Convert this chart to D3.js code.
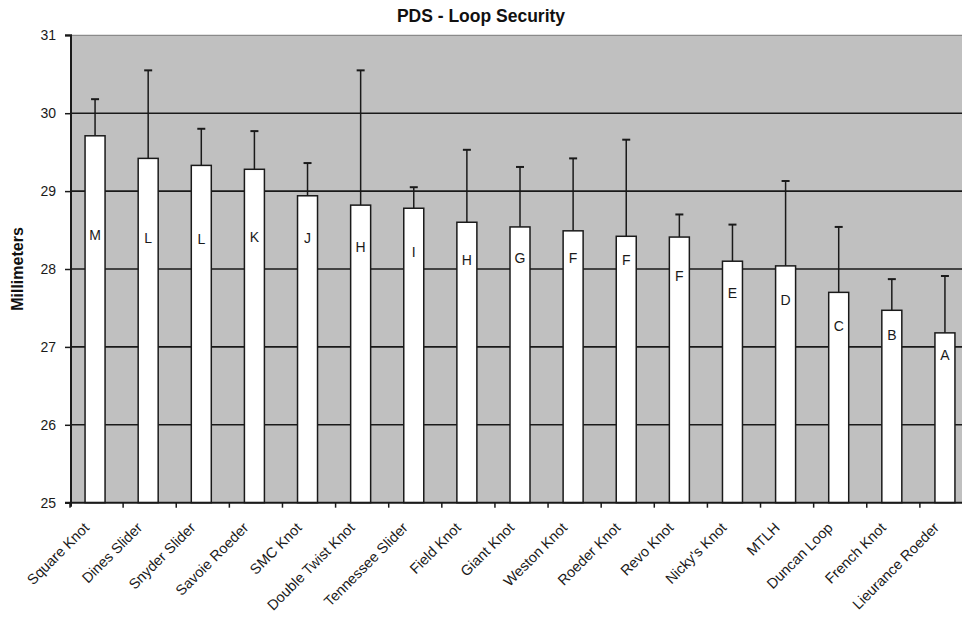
<!DOCTYPE html>
<html>
<head>
<meta charset="utf-8">
<script src="https://cdn.jsdelivr.net/npm/d3@7"></script>
<style>
  html, body { margin: 0; padding: 0; background: #fff; }
  svg { display: block; font-family: Arial, "Liberation Sans", sans-serif; }
</style>
</head>
<body>
<svg id="chart" width="962" height="617"></svg>
<script>
const categories = ["Square Knot","Dines Slider","Snyder Slider","Savoie Roeder","SMC Knot","Double Twist Knot","Tennessee Slider","Field Knot","Giant Knot","Weston Knot","Roeder Knot","Revo Knot","Nicky's Knot","MTLH","Duncan Loop","French Knot","Lieurance Roeder"];
const means = [29.71,29.42,29.33,29.28,28.94,28.82,28.78,28.60,28.54,28.49,28.42,28.41,28.10,28.04,27.70,27.47,27.18];
const errTops = [30.18,30.55,29.80,29.77,29.36,30.55,29.05,29.53,29.31,29.42,29.66,28.70,28.57,29.13,28.54,27.87,27.91];
const groupLetters = ["M","L","L","K","J","H","I","H","G","F","F","F","E","D","C","B","A"];
const letterPos = [28.44,28.40,28.39,28.41,28.40,28.28,28.22,28.12,28.14,28.14,28.12,27.91,27.69,27.60,27.27,27.15,26.90];
const yTicks = [25,26,27,28,29,30,31];
const title = "PDS - Loop Security";
const yTitle = "Millimeters";

const svg = d3.select("#chart");
const pLeft = 71, pTop = 35.3, pBottom = 502.7, pRight = 973;
const x = d3.scaleBand().domain(categories).range([70, pRight]).padding(0);
const y = d3.scaleLinear().domain([25, 31]).range([pBottom, pTop]);
const dark = "#1a1a1a";

// plot background
svg.append("rect").attr("x", pLeft).attr("y", pTop).attr("width", 962 - pLeft).attr("height", pBottom - pTop).attr("fill", "#c0c0c0");

// gridlines
svg.append("g").selectAll("line").data(yTicks.filter(d => d > 25)).join("line")
  .attr("x1", pLeft).attr("x2", 962)
  .attr("y1", d => y(d)).attr("y2", d => y(d))
  .attr("stroke", d => d === 31 ? "#8a8a8a" : dark)
  .attr("stroke-width", d => d === 31 ? 1.2 : 1.6);

const bw = 20;
const cx = d => x(d) + x.bandwidth() / 2 - 1.5;

// error bars
const eg = svg.append("g");
categories.forEach((c, i) => {
  eg.append("line").attr("x1", cx(c)).attr("x2", cx(c)).attr("y1", y(means[i])).attr("y2", y(errTops[i]))
    .attr("stroke", dark).attr("stroke-width", 1.5);
  eg.append("line").attr("x1", cx(c) - 4).attr("x2", cx(c) + 4).attr("y1", y(errTops[i])).attr("y2", y(errTops[i]))
    .attr("stroke", dark).attr("stroke-width", 2);
});

// bars
svg.append("g").selectAll("rect").data(categories).join("rect")
  .attr("x", d => cx(d) - bw / 2)
  .attr("y", (d, i) => y(means[i]))
  .attr("width", bw)
  .attr("height", (d, i) => y(25) - y(means[i]))
  .attr("fill", "#fff").attr("stroke", dark).attr("stroke-width", 1.5);

// letters
svg.append("g").selectAll("text").data(categories).join("text")
  .attr("x", d => cx(d))
  .attr("y", (d, i) => y(letterPos[i]))
  .attr("dy", "0.36em")
  .attr("text-anchor", "middle")
  .attr("font-size", 14).attr("fill", "#1a1a1a")
  .text((d, i) => groupLetters[i]);

// y axis
const yAxis = d3.axisLeft(y).tickValues(yTicks).tickSize(6).tickPadding(9).tickFormat(d3.format("d"));
const yg = svg.append("g").attr("transform", `translate(${pLeft},0)`).call(yAxis);
yg.select(".domain").attr("stroke", dark).attr("stroke-width", 2).attr("d", `M-6,${pTop}H0V${pBottom + 4}`);
yg.selectAll(".tick line").attr("stroke", dark).attr("stroke-width", 1.5);
yg.selectAll(".tick text").attr("font-size", 14).attr("fill", "#1a1a1a").attr("font-family", "Arial, 'Liberation Sans', sans-serif");

// x axis
const xAxis = d3.axisBottom(x).tickSize(0).tickFormat("");
const xg = svg.append("g").attr("transform", `translate(0,${pBottom})`).call(xAxis);
xg.select(".domain").attr("stroke", dark).attr("stroke-width", 2).attr("d", `M${pLeft - 6},0H962`);
xg.selectAll(".tick").remove();
svg.append("g").selectAll("line").data(categories).join("line")
  .attr("x1", d => x(d)).attr("x2", d => x(d))
  .attr("y1", pBottom).attr("y2", pBottom + 5)
  .attr("stroke", dark).attr("stroke-width", 1.5);

// category labels
svg.append("g").selectAll("text").data(categories).join("text")
  .attr("transform", d => `translate(${cx(d) - 5},${pBottom + 26}) rotate(-45)`)
  .attr("text-anchor", "end")
  .attr("font-size", 14.5).attr("fill", "#1a1a1a")
  .text(d => d);

// title
svg.append("text").attr("x", 481).attr("y", 22).attr("text-anchor", "middle")
  .attr("font-size", 17.5).attr("font-weight", "bold").attr("fill", "#111").text(title);

// y title
svg.append("text").attr("transform", `translate(23,269) rotate(-90)`).attr("text-anchor", "middle")
  .attr("font-size", 16).attr("font-weight", "bold").attr("fill", "#111").text(yTitle);
</script>
</body>
</html>
